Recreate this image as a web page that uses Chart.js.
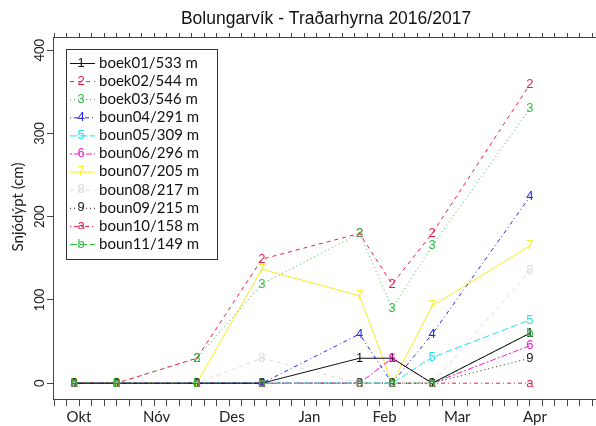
<!DOCTYPE html>
<html>
<head>
<meta charset="utf-8">
<script src="https://cdn.jsdelivr.net/npm/chart.js@4/dist/chart.umd.min.js"></script>
<style>
  html, body { margin: 0; padding: 0; background: #fff; overflow: hidden; }
</style>
</head>
<body>
<canvas id="snow" width="596" height="426"></canvas>
<script>
const chartTitle = "Bolungarvík - Traðarhyrna 2016/2017";
const yTitle = "Snjódýpt (cm)";
const startDate = "2016-10-01";
const dates = ["2016-10-14", "2016-10-31", "2016-12-02", "2016-12-28", "2017-02-05", "2017-02-18", "2017-03-06", "2017-04-14"];
const stations = ["boek01/533 m", "boek02/544 m", "boek03/546 m", "boun04/291 m", "boun05/309 m", "boun06/296 m",
  "boun07/205 m", "boun08/217 m", "boun09/215 m", "boun10/158 m", "boun11/149 m"];
const symbols = ["1", "2", "3", "4", "5", "6", "7", "8", "9", "a", "b"];
const colors = ["#111111", "#f5184a", "#2fbf45", "#2a2ae0", "#22e5ee", "#f022c8", "#f8ee20", "#dadada", "#222222", "#f5184a", "#2fbf45"];
const dashes = [[], [4, 4], [1, 3], [1, 3, 4, 3], [7, 3], [2, 2, 6, 2], [], [4, 4], [1, 3], [1, 3, 4, 3], [7, 3]];

const boek01 = [0, 0, 0, 0, 30, 30, 0, 60];
const boek02 = [0, 0, 30, 149, 180, 119, 180, 359];
const boek03 = [0, 0, 30, 119, 180, 90, 165, 330];
const boun04 = [0, 0, 0, 0, 59, 0, 59, 224];
const boun05 = [0, 0, 0, 0, 0, 0, 31, 76];
const boun06 = [0, 0, 0, 0, 0, 30, 0, 45];
const boun07 = [0, 0, 0, 137, 105, 0, 93, 165];
const boun08 = [0, 0, 0, 30, 0, 0, 0, 135];
const boun09 = [0, 0, 0, 0, 0, 0, 0, 30];
const boun10 = [0, 0, 0, 0, 0, 0, 0, 0];
const boun11 = [0, 0, 0, 0, 0, 0, 0, 60];
const series = [boek01, boek02, boek03, boun04, boun05, boun06, boun07, boun08, boun09, boun10, boun11];

const monthLabels = ["Okt", "Nóv", "Des", "Jan", "Feb", "Mar", "Apr"];
const monthDates = ["2016-10-16", "2016-11-16", "2016-12-16", "2017-01-16", "2017-02-15", "2017-03-16", "2017-04-16"];
const yTicks = [0, 100, 200, 300, 400];

// days since start, used as the x value
function dayOf(d) {
  return (Date.parse(d) - Date.parse(startDate)) / 86400000;
}

const xMin = 4.6, xMax = 221.4;

function fiveDayTicks(scale) {
  const t = [];
  for (let v = 0; v <= xMax; v += 5) {
    if (v > xMin) t.push({ value: v });
  }
  scale.ticks = t;
}

const datasets = series.map((vals, i) => ({
  label: stations[i],
  data: dates.map((d, j) => ({ x: dayOf(d), y: vals[j] })),
  borderColor: colors[i],
  borderDash: dashes[i],
  borderWidth: 1,
  pointRadius: 0,
  fill: false,
  tension: 0
}));

const labelsPlugin = {
  id: "labels",
  afterDatasetsDraw(chart) {
    const ctx = chart.ctx;
    const area = chart.chartArea;
    const x = chart.scales.x, y = chart.scales.y;
    ctx.save();

    // point symbols
    ctx.font = "13px 'Liberation Sans'";
    ctx.textAlign = "center";
    ctx.textBaseline = "middle";
    chart.data.datasets.forEach((ds, i) => {
      chart.getDatasetMeta(i).data.forEach(pt => {
        ctx.fillStyle = colors[i];
        ctx.fillText(symbols[i], pt.x, pt.y);
      });
    });

    // legend
    const lx = 66, ly = 49, lw = 151, lh = 210;
    ctx.fillStyle = "#fff";
    ctx.fillRect(lx, ly, lw, lh);
    ctx.strokeStyle = "#333";
    ctx.lineWidth = 1;
    ctx.setLineDash([]);
    ctx.strokeRect(lx + 0.5, ly + 0.5, lw, lh);
    stations.forEach((s, i) => {
      const yy = ly + 14 + i * 18.1;
      ctx.strokeStyle = colors[i];
      ctx.setLineDash(dashes[i]);
      ctx.beginPath();
      ctx.moveTo(70, yy + 0.5);
      ctx.lineTo(95, yy + 0.5);
      ctx.stroke();
      ctx.setLineDash([]);
      ctx.font = "13px 'Liberation Sans'";
      ctx.textAlign = "center";
      ctx.fillStyle = colors[i];
      ctx.fillText(symbols[i], 81, yy);
      ctx.font = "15px Lato";
      ctx.textAlign = "left";
      ctx.fillStyle = "#111";
      ctx.fillText(s, 99, yy);
    });

    // y tick labels, rotated
    ctx.font = "13px Lato";
    ctx.fillStyle = "#222";
    ctx.textAlign = "center";
    yTicks.forEach(v => {
      ctx.save();
      ctx.translate(40, y.getPixelForValue(v));
      ctx.rotate(-Math.PI / 2);
      ctx.fillText(String(v), 0, 0);
      ctx.restore();
    });

    // y title
    ctx.save();
    ctx.font = "15px Lato";
    ctx.translate(18, 207);
    ctx.rotate(-Math.PI / 2);
    ctx.fillText(yTitle, 0, 0);
    ctx.restore();

    // month labels
    ctx.font = "15px Lato";
    monthLabels.forEach((m, i) => {
      ctx.fillText(m, x.getPixelForValue(dayOf(monthDates[i])), 417);
    });

    // title
    ctx.font = "17.5px 'Liberation Sans'";
    ctx.fillStyle = "#111";
    ctx.fillText(chartTitle, (area.left + 599) / 2, 19);
    ctx.restore();
  }
};

new Chart(document.getElementById("snow"), {
  type: "line",
  data: { datasets: datasets },
  options: {
    responsive: false,
    animation: false,
    devicePixelRatio: 1,
    layout: { padding: { left: 47, top: 33, right: 0, bottom: 20 } },
    plugins: { legend: { display: false }, title: { display: false }, tooltip: { enabled: false } },
    scales: {
      x: {
        type: "linear", position: "bottom", min: xMin, max: xMax,
        afterBuildTicks: fiveDayTicks,
        ticks: { display: false },
        grid: { drawOnChartArea: false, drawTicks: true, tickLength: 7, color: "#444" },
        border: { display: true, color: "#444" }
      },
      xTop: {
        type: "linear", position: "top", min: xMin, max: xMax,
        afterBuildTicks: fiveDayTicks,
        ticks: { display: false },
        grid: { drawOnChartArea: false, drawTicks: true, tickLength: 4, color: "#444" },
        border: { display: true, color: "#444" }
      },
      y: {
        min: -19, max: 416,
        afterBuildTicks: scale => { scale.ticks = yTicks.map(v => ({ value: v })); },
        ticks: { display: false },
        grid: { drawOnChartArea: false, drawTicks: true, tickLength: 6, color: "#444" },
        border: { display: true, color: "#444" }
      }
    }
  },
  plugins: [labelsPlugin]
});
</script>
</body>
</html>
